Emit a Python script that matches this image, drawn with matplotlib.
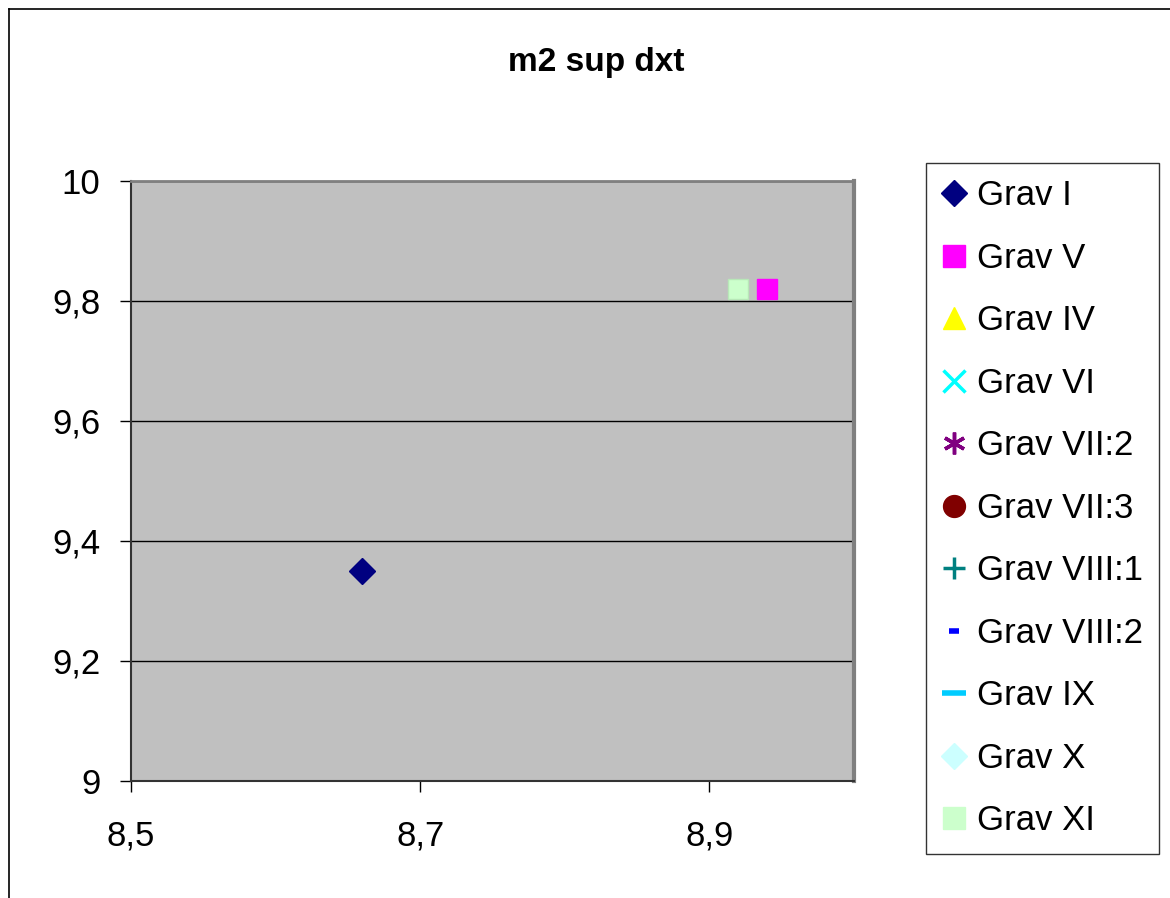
import matplotlib
matplotlib.use("Agg")
import matplotlib.pyplot as plt
from matplotlib.lines import Line2D
from matplotlib.ticker import FuncFormatter

plt.rcParams['font.family'] = ['Liberation Sans', 'DejaVu Sans']

# series: label, x values, y values
labels = ['Grav I', 'Grav V', 'Grav IV', 'Grav VI', 'Grav VII:2', 'Grav VII:3',
          'Grav VIII:1', 'Grav VIII:2', 'Grav IX', 'Grav X', 'Grav XI']
x_vals = [[8.66], [8.94], [], [], [], [], [], [], [], [], [8.92]]
y_vals = [[9.35], [9.82], [], [], [], [], [], [], [], [], [9.82]]

markers = ['D', 's', '^', 'x', '*', 'o', '+', '_', '_', 'D', 's']
colors = ['#000080', '#FF00FF', '#FFFF00', '#00FFFF', '#800080', '#800000',
          '#008080', '#0000FF', '#00CCFF', '#CCFFFF', '#CCFFCC']
sizes = [13, 15, 15, 15, 15, 15, 15, 7, 16, 13, 15]

fig = plt.figure(figsize=(11.7, 8.98), dpi=100)
ax = fig.add_axes([131/1170, 1-781/898, (854-131)/1170, (781-181)/898])
ax.set_facecolor('#C0C0C0')

handles = []
for lab, xs, ys, m, c, s in zip(labels, x_vals, y_vals, markers, colors, sizes):
    ls = s * 1.05
    if m in ('x', '+', '_'):
        mew = 2.5 if m != '_' else 4
        ax.plot(xs, ys, linestyle='none', marker=m, color=c, markersize=s, markeredgewidth=mew)
        h = Line2D([], [], linestyle='none', marker=m, color=c, markersize=ls, markeredgewidth=mew)
    elif m == '*':
        ax.plot(xs, ys, linestyle='none', marker=(6, 2, 0), color=c, markersize=s, markeredgewidth=2.5)
        h = Line2D([], [], linestyle='none', marker=(6, 2, 0), color=c, markersize=ls, markeredgewidth=2.5)
    else:
        edge = '#B8E8B8' if lab == 'Grav XI' else c
        ax.plot(xs, ys, linestyle='none', marker=m, markerfacecolor=c, markeredgecolor=edge,
                markersize=s, markeredgewidth=1)
        h = Line2D([], [], linestyle='none', marker=m, markerfacecolor=c, markeredgecolor=c,
                   markersize=ls, markeredgewidth=1)
    handles.append(h)

ax.set_xlim(8.5, 9.0)
ax.set_ylim(9, 10)
ax.set_xticks([8.5, 8.7, 8.9])
ax.set_yticks([9, 9.2, 9.4, 9.6, 9.8, 10])
fmt = FuncFormatter(lambda v, p: ('%g' % round(v, 2)).replace('.', ','))
ax.xaxis.set_major_formatter(fmt)
ax.yaxis.set_major_formatter(fmt)
ax.tick_params(axis='both', labelsize=25, length=8, width=1, color='black', direction='out')
ax.tick_params(axis='x', pad=20)
ax.tick_params(axis='y', pad=14)
ax.grid(axis='y', color='black', linewidth=1)
ax.set_axisbelow(True)

ax.spines['top'].set_color('#808080')
ax.spines['top'].set_linewidth(2)
ax.spines['right'].set_color('#808080')
ax.spines['right'].set_linewidth(3)
ax.spines['left'].set_color('#333333')
ax.spines['left'].set_linewidth(1.5)
ax.spines['bottom'].set_color('#333333')
ax.spines['bottom'].set_linewidth(1.5)

fig.text(596/1170, 1-63/898, 'm2 sup dxt', ha='center', va='center',
         fontsize=24, fontweight='bold')

leg = fig.legend(handles, labels, loc='upper left',
                 bbox_to_anchor=(926/1170, 1-163/898), fontsize=25,
                 frameon=True, fancybox=False, edgecolor='black',
                 labelspacing=0.85, handlelength=0.7, handletextpad=0.3,
                 borderpad=0.47, borderaxespad=0)
leg.get_frame().set_linewidth(1)

# outer chart border
fig.add_artist(Line2D([9/1170, 1], [1-9/898, 1-9/898], color='black', linewidth=1.2))
fig.add_artist(Line2D([9/1170, 9/1170], [0, 1-9/898], color='black', linewidth=1.2))

fig.savefig('out.png', dpi=100, facecolor='white')
